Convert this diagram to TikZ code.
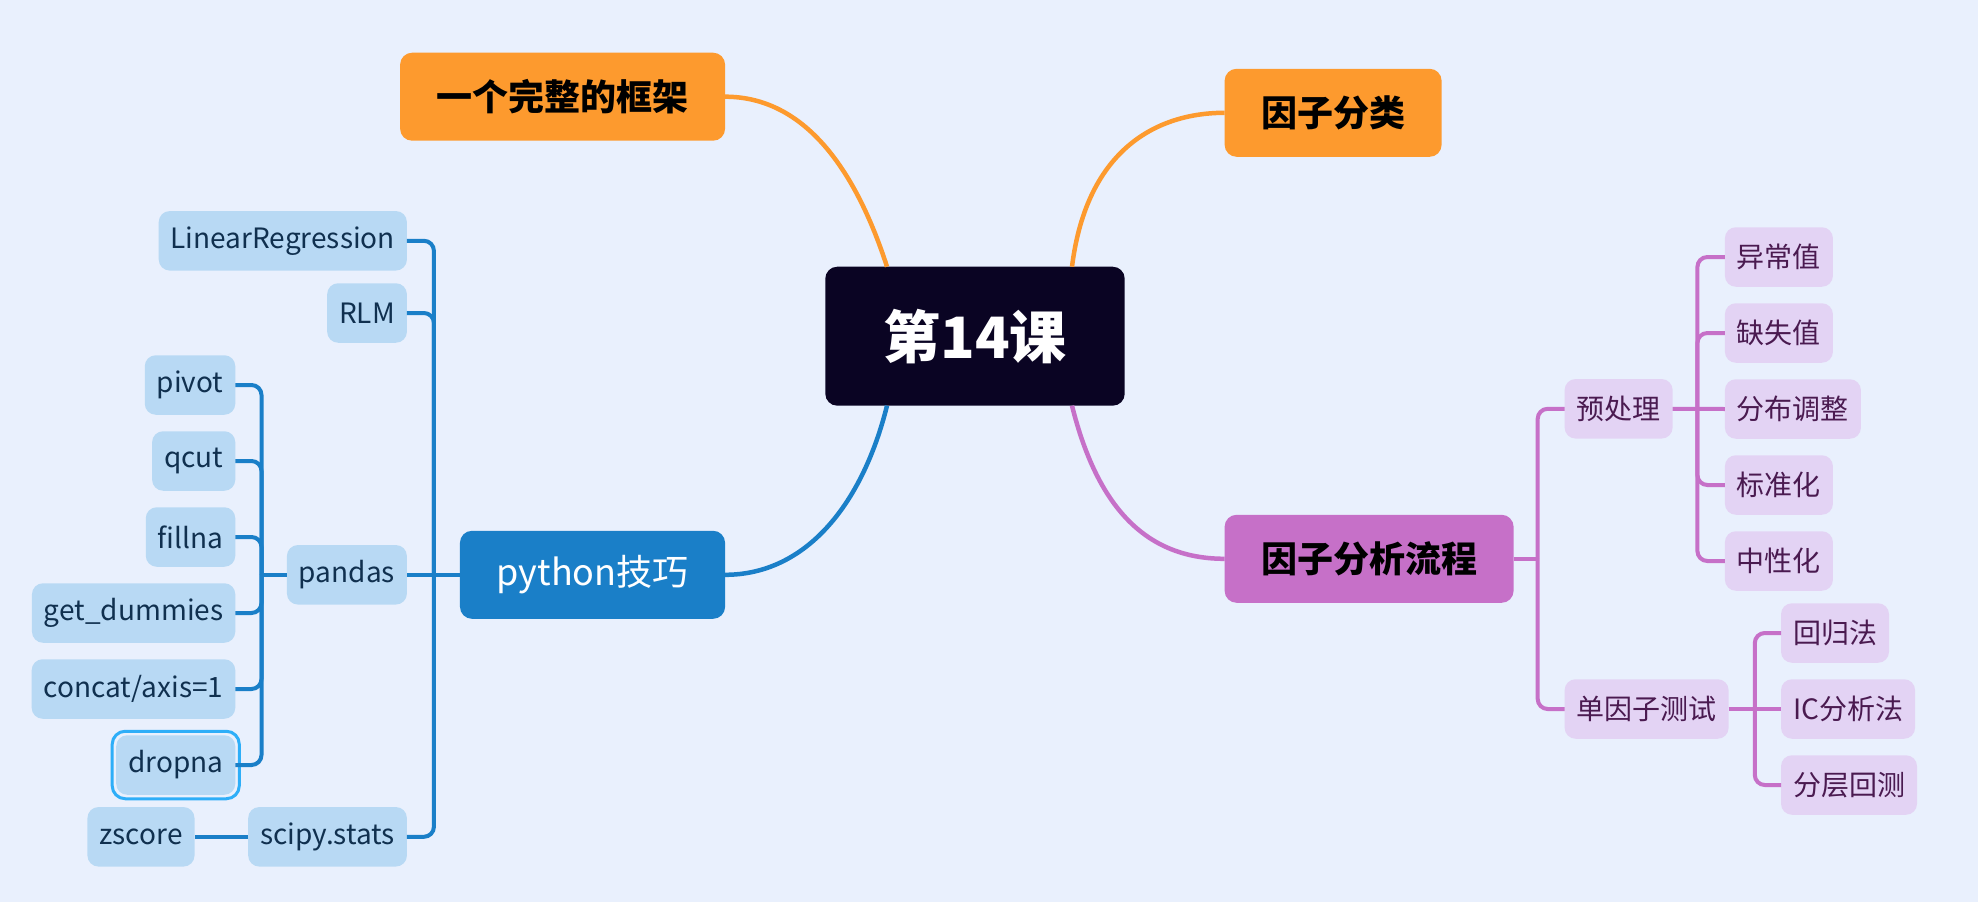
\documentclass[tikz,border=0pt]{standalone}
\usepackage{fontspec}
\setmainfont{Noto Sans CJK SC}
\definecolor{bgcol}{HTML}{E9F0FD}
\definecolor{rootcol}{HTML}{0A0423}
\definecolor{orangecol}{HTML}{FD9A2E}
\definecolor{pycol}{HTML}{1A7FC8}
\definecolor{pyleaf}{HTML}{B8D9F4}
\definecolor{pytext}{HTML}{10304F}
\definecolor{pinkcol}{HTML}{C670C8}
\definecolor{pinkleaf}{HTML}{E3D3F4}
\definecolor{pinktext}{HTML}{4A1A50}
\definecolor{selcol}{HTML}{2EAEF8}
\tikzset{
	box/.style={rounded corners=12pt, inner ysep=0pt, outer sep=0pt},
	rootbox/.style={box, fill=rootcol, text=white, minimum height=139pt, inner xsep=58pt, font=\bfseries\fontsize{57}{60}\selectfont},
	topic/.style={box, minimum height=88pt, inner xsep=36.5pt, font=\bfseries\fontsize{36}{40}\selectfont},
	leaf/.style={box, rounded corners=11pt, minimum height=59.5pt, inner xsep=12pt, font=\fontsize{28}{30}\selectfont},
	bleaf/.style={leaf, fill=pyleaf, text=pytext},
	pleaf/.style={leaf, fill=pinkleaf, text=pinktext},
	curve/.style={line width=4.5pt},
	link/.style={line width=4pt, rounded corners=10pt}
}

\begin{document}
\begin{tikzpicture}[x=1pt,y=-1pt]
	\fill[bgcol] (0,0) rectangle (1978,902);
	\useasboundingbox (0,0) rectangle (1978,902);
	\node[rootbox] (root) at (975,336.2) {第14课};
	\node[topic, fill=orangecol, anchor=east] (frame) at (725.1,96.7) {一个完整的框架};
	\node[topic, fill=orangecol, anchor=west] (kinds) at (1224.6,112.8) {因子分类};
	\node[topic, fill=pycol, text=white, font=\fontsize{36}{40}\selectfont, anchor=east] (python) at (725.1,574.8) {python技巧};
	\node[topic, fill=pinkcol, anchor=west] (flow) at (1224.6,558.8) {因子分析流程};

	\node[bleaf, anchor=east] (linreg) at (406.9,240.8) {LinearRegression};
	\node[bleaf, anchor=east] (rlm) at (406.9,313) {RLM};
	\node[bleaf, anchor=east] (pandas) at (406.9,574.8) {pandas};
	\node[bleaf, anchor=east] (scipy) at (406.9,836.8) {scipy.stats};
	\node[bleaf, anchor=east] (zscore) at (194.5,836.8) {zscore};
	\foreach \nm/\txt [count=\i] in {pivot/pivot, qcut/qcut, fillna/fillna, dummies/get\_dummies, concat/{concat/axis=1}, dropna/dropna}
		\node[bleaf, anchor=east] (\nm) at (235.3,{309+76*\i}) {\txt};
	\draw[selcol, line width=3pt, rounded corners=13pt] ([shift={(-4,4)}]dropna.south west) rectangle ([shift={(4,-4)}]dropna.north east);

	\node[pleaf, anchor=west] (pre) at (1564.6,408.8) {预处理};
	\node[pleaf, anchor=west] (single) at (1564.6,709) {单因子测试};
	\foreach \nm/\txt [count=\i] in {abn/异常值, miss/缺失值, dist/分布调整, std/标准化, neu/中性化}
		\node[pleaf, anchor=west] (\nm) at (1724.9,{181+76*\i}) {\txt};
	\foreach \nm/\txt [count=\i] in {reg/回归法, ic/IC分析法, layer/分层回测}
		\node[pleaf, anchor=west] (\nm) at (1781,{557+76*\i}) {\txt};

	\draw[curve, orangecol] (frame.east) .. controls +(75,0) and +(-34,-105) .. ([xshift=-88pt]root.north);
	\draw[curve, orangecol] (kinds.west) .. controls +(-65,0) and +(15,-120) .. ([xshift=97pt]root.north);
	\draw[curve, pycol] (python.east) .. controls +(80,0) and +(-25,100) .. ([xshift=-88pt]root.south);
	\draw[curve, pinkcol] (flow.west) .. controls +(-80,0) and +(25,100) .. ([xshift=97pt]root.south);

	\coordinate (pytrunk) at ([xshift=27pt]linreg.east);
	\coordinate (pdtrunk) at ([xshift=26.2pt]pivot.east);
	\draw[link, pycol] (python.west) -- (pandas.east);
	\foreach \c in {linreg,rlm,scipy}
		\draw[link, pycol] (\c.east) -| (pytrunk |- python.west);
	\draw[link, pycol] (pandas.west) -- (pdtrunk |- pandas.west);
	\foreach \c in {pivot,qcut,fillna,dummies,concat,dropna}
		\draw[link, pycol] (\c.east) -| (pdtrunk |- pandas.west);
	\draw[link, pycol] (scipy.west) -- (zscore.east);

	\coordinate (flowtrunk) at ([xshift=-26.9pt]pre.west);
	\coordinate (pretrunk) at ([xshift=-27.5pt]abn.west);
	\coordinate (sgltrunk) at ([xshift=-26.2pt]reg.west);
	\draw[link, pinkcol] (flow.east) -- (flowtrunk |- flow.east);
	\foreach \c in {pre,single}
		\draw[link, pinkcol] (\c.west) -| (flowtrunk |- flow.east);
	\draw[link, pinkcol] (pre.east) -- (dist.west);
	\foreach \c in {abn,miss,std,neu}
		\draw[link, pinkcol] (\c.west) -| (pretrunk |- pre.east);
	\draw[link, pinkcol] (single.east) -- (ic.west);
	\foreach \c in {reg,layer}
		\draw[link, pinkcol] (\c.west) -| (sgltrunk |- single.east);
\end{tikzpicture}
\end{document}
